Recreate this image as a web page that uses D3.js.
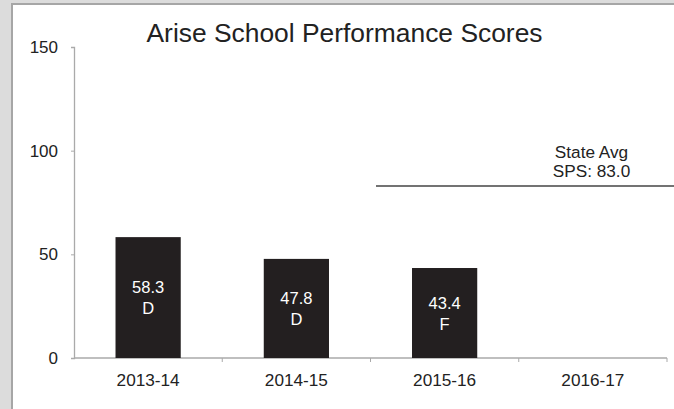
<!DOCTYPE html>
<html>
<head>
<meta charset="utf-8">
<script src="https://cdn.jsdelivr.net/npm/d3@7"></script>
<style>
  body { margin: 0; background: #dcdcdc; }
  svg { display: block; font-family: "Liberation Sans", Arial, sans-serif; }
</style>
</head>
<body>
<script>
const width = 674;
const height = 409;

const years = ["2013-14", "2014-15", "2015-16", "2016-17"];
const scores = [58.3, 47.8, 43.4, null];
const grades = ["D", "D", "F", null];
const yTicks = [0, 50, 100, 150];
const stateAvg = 83.0;

const svg = d3.select("body")
  .append("svg")
  .attr("width", width)
  .attr("height", height);

// panel
svg.append("rect")
  .attr("x", 12).attr("y", 4)
  .attr("width", width).attr("height", height)
  .attr("fill", "#fff")
  .attr("stroke", "#a6a6a6")
  .attr("stroke-width", 2);

const x = d3.scaleBand().domain(years).range([74, 667]).padding(0);
const y = d3.scaleLinear().domain([0, 150]).range([358, 47]);

svg.append("text")
  .attr("x", 344.5).attr("y", 41.8)
  .attr("text-anchor", "middle")
  .attr("font-size", 26.4)
  .attr("fill", "#222")
  .text("Arise School Performance Scores");

// y axis
const yAxis = svg.append("g")
  .attr("transform", "translate(74,0)")
  .call(d3.axisLeft(y).tickValues(yTicks).tickSize(3).tickPadding(13));
yAxis.select(".domain").attr("stroke", "#aaa").attr("stroke-width", 1.3);
yAxis.selectAll(".tick line").attr("stroke", "#aaa");
yAxis.selectAll(".tick text").attr("font-size", 17).attr("fill", "#222")
  .attr("font-family", "Liberation Sans, Arial, sans-serif");

// x axis, ticks at category boundaries
svg.append("line")
  .attr("x1", 74).attr("x2", 667).attr("y1", y(0)).attr("y2", y(0))
  .attr("stroke", "#aaa").attr("stroke-width", 1.3);
svg.selectAll(".xtick")
  .data(years.slice(1).concat(["end"]))
  .enter().append("line")
  .attr("x1", (d, i) => x(years[0]) + x.step() * (i + 1))
  .attr("x2", (d, i) => x(years[0]) + x.step() * (i + 1))
  .attr("y1", y(0)).attr("y2", y(0) + 4)
  .attr("stroke", "#aaa");
svg.selectAll(".xlabel")
  .data(years)
  .enter().append("text")
  .attr("x", d => x(d) + x.bandwidth() / 2)
  .attr("y", 385.5)
  .attr("text-anchor", "middle")
  .attr("font-size", 17.2)
  .attr("fill", "#222")
  .text(d => d);

// bars
const barW = x.bandwidth() * 0.44;
const bars = years.map((d, i) => ({ year: d, v: scores[i], g: grades[i] }))
  .filter(d => d.v != null);

svg.selectAll(".bar")
  .data(bars)
  .enter().append("rect")
  .attr("x", d => x(d.year) + (x.bandwidth() - barW) / 2)
  .attr("y", d => y(d.v))
  .attr("width", barW)
  .attr("height", d => y(0) - y(d.v))
  .attr("fill", "#231f20");

const lab = svg.selectAll(".lab")
  .data(bars)
  .enter().append("text")
  .attr("text-anchor", "middle")
  .attr("font-size", 16.5)
  .attr("fill", "#fff");
lab.append("tspan")
  .attr("x", d => x(d.year) + x.bandwidth() / 2)
  .attr("y", d => (y(d.v) + y(0)) / 2 - 4.5)
  .text(d => d.v.toFixed(1));
lab.append("tspan")
  .attr("x", d => x(d.year) + x.bandwidth() / 2)
  .attr("y", d => (y(d.v) + y(0)) / 2 + 16.8)
  .text(d => d.g);

// state average line
svg.append("line")
  .attr("x1", 376).attr("x2", width)
  .attr("y1", y(stateAvg)).attr("y2", y(stateAvg))
  .attr("stroke", "#444").attr("stroke-width", 1.5);
const avg = svg.append("text")
  .attr("text-anchor", "middle")
  .attr("font-size", 17.2)
  .attr("fill", "#222");
avg.append("tspan").attr("x", 591.5).attr("y", 158.3).text("State Avg");
avg.append("tspan").attr("x", 591.5).attr("y", 176.7).text("SPS: " + stateAvg.toFixed(1));
</script>
</body>
</html>
